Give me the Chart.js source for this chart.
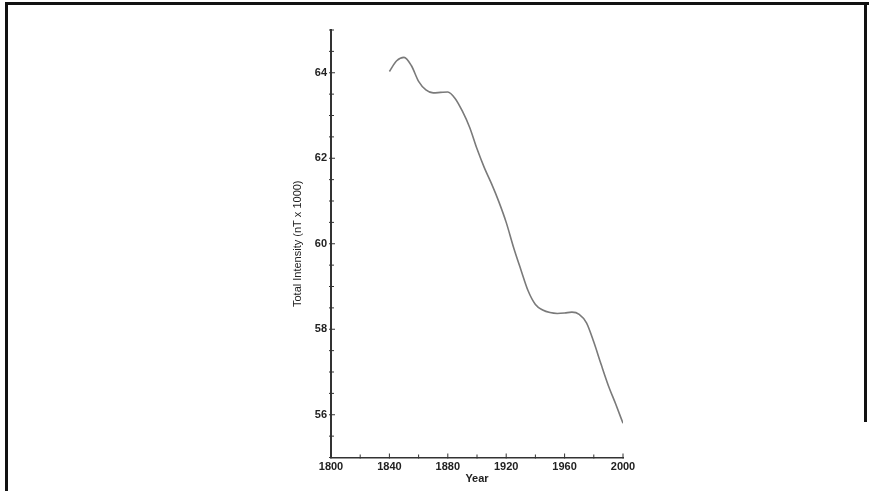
<!DOCTYPE html>
<html>
<head>
<meta charset="utf-8">
<script src="https://cdn.jsdelivr.net/npm/chart.js@4.4.0/dist/chart.umd.min.js"></script>
<style>
  html, body { margin: 0; padding: 0; background: #fff; }
  .frame { position: absolute; left: 0; top: 0; width: 869px; height: 491px; overflow: hidden; }
  .frame .top { position: absolute; left: 5px; top: 2px; width: 864px; height: 3px; background: #111; }
  .frame .left { position: absolute; left: 5px; top: 2px; width: 3px; height: 489px; background: #111; }
  .frame .right { position: absolute; left: 864px; top: 2px; width: 3px; height: 420px; background: #111; }
  #chart { position: absolute; left: 0; top: 0; }
</style>
</head>
<body>
<div class="frame">
  <canvas id="chart" width="869" height="491"></canvas>
  <div class="top"></div>
  <div class="left"></div>
  <div class="right"></div>
</div>
<script>
// Total intensity, every 5 years
const years = [1840, 1845, 1850, 1855, 1860, 1865, 1870, 1875, 1880, 1885, 1890, 1895, 1900,
               1905, 1910, 1915, 1920, 1925, 1930, 1935, 1940, 1945, 1950, 1955, 1960,
               1965, 1970, 1975, 1980, 1985, 1990, 1995, 2000];
const intensity = [64.03, 64.28, 64.36, 64.17, 63.80, 63.60, 63.53, 63.54, 63.55, 63.40, 63.10, 62.72, 62.22,
                   61.78, 61.40, 60.98, 60.50, 59.92, 59.40, 58.90, 58.58, 58.45, 58.39, 58.37, 58.38,
                   58.40, 58.35, 58.15, 57.70, 57.18, 56.68, 56.25, 55.80];

// labelled ticks (minor ticks sit between them)
const xLabels = [1800, 1840, 1880, 1920, 1960, 2000];
const yLabels = [56, 58, 60, 62, 64];

const fontFamily = '"Liberation Sans", Arial, sans-serif';

// small tick marks crossing the axes, inward like the original plot
const innerTicks = {
    id: 'innerTicks',
    afterDraw(chart) {
        const ctx = chart.ctx;
        const x = chart.scales.x, y = chart.scales.y;
        ctx.save();
        ctx.strokeStyle = '#333';
        ctx.lineWidth = 1;
        x.ticks.forEach((t, i) => {
            const px = x.getPixelForTick(i);
            const len = xLabels.includes(t.value) ? 4 : 3;
            ctx.beginPath();
            ctx.moveTo(px, x.top - len);
            ctx.lineTo(px, x.top + 1);
            ctx.stroke();
        });
        y.ticks.forEach((t, i) => {
            const py = y.getPixelForTick(i);
            const len = yLabels.includes(t.value) ? 4 : 3;
            ctx.beginPath();
            ctx.moveTo(y.right - 2, py);
            ctx.lineTo(y.right + len, py);
            ctx.stroke();
        });
        ctx.restore();
    }
};

new Chart(document.getElementById('chart').getContext('2d'), {
    type: 'line',
    data: {
        datasets: [{
            data: years.map((yr, i) => ({ x: yr, y: intensity[i] })),
            borderColor: '#7a7a7a',
            borderWidth: 1.6,
            cubicInterpolationMode: 'monotone',
            pointRadius: 0,
            fill: false
        }]
    },
    options: {
        responsive: false,
        animation: false,
        layout: { padding: { left: 285, top: 30, right: 246, bottom: 5 } },
        plugins: { legend: { display: false }, tooltip: { enabled: false } },
        scales: {
            x: {
                type: 'linear',
                min: 1800,
                max: 2000,
                afterFit: s => { s.height = 28.5; },
                grid: { display: true, drawOnChartArea: false, drawTicks: false },
                border: { display: true, color: '#333', width: 1.6 },
                ticks: {
                    stepSize: 20,
                    padding: 3,
                    maxRotation: 0,
                    autoSkip: false,
                    color: '#222',
                    font: { family: fontFamily, size: 11, weight: 'bold' },
                    callback: v => xLabels.includes(v) ? String(v) : ''
                },
                title: {
                    display: true,
                    text: 'Year',
                    color: '#222',
                    padding: { top: 0, bottom: 0 },
                    font: { family: fontFamily, size: 11, weight: 'bold' }
                }
            },
            y: {
                min: 55,
                max: 65,
                afterFit: s => { s.width = 46; },
                grid: { display: true, drawOnChartArea: false, drawTicks: false },
                border: { display: true, color: '#333', width: 2 },
                ticks: {
                    stepSize: 0.5,
                    padding: 4,
                    autoSkip: false,
                    color: '#222',
                    font: { family: fontFamily, size: 11, weight: 'bold' },
                    callback: v => yLabels.includes(v) ? String(v) : ''
                },
                title: {
                    display: true,
                    text: 'Total Intensity (nT x 1000)',
                    color: '#222',
                    padding: { top: 6, bottom: 0 },
                    font: { family: fontFamily, size: 11 }
                }
            }
        }
    },
    plugins: [innerTicks]
});
</script>
</body>
</html>
